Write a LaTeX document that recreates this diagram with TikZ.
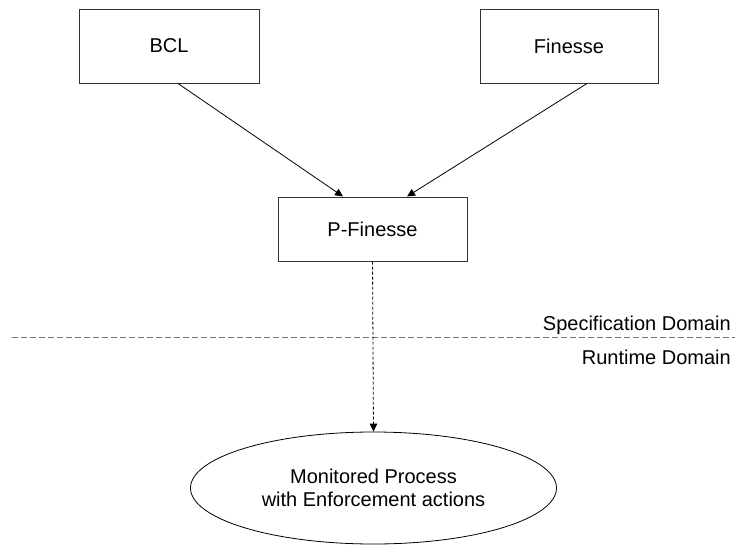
\documentclass[tikz,border=0pt]{standalone}
\usepackage{fontspec}
\setmainfont{Liberation Sans}
\usetikzlibrary{arrows.meta,shapes.geometric}
\begin{document}
\begin{tikzpicture}[x=1pt,y=-1pt,
  font=\fontsize{20}{23}\selectfont,
  box/.style={draw=black!80,line width=1pt,rectangle,inner sep=0pt},
  link/.style={draw=black,line width=0.8pt,-{Triangle[length=8pt,width=7.5pt]}},
  dlink/.style={link,dash pattern=on 3pt off 2pt},
  domlabel/.style={anchor=base east,inner sep=0pt}]
\useasboundingbox (0,0) rectangle (735,546);
% specification artefacts
\node[box,minimum width=180pt,minimum height=74pt] (bcl) at (169,46) {BCL};
\node[box,minimum width=178pt,minimum height=74pt] (fin) at (569,46) {Finesse};
\node[box,minimum width=189pt,minimum height=64pt] (pfin) at (372.5,229) {P-Finesse};
% runtime process
\node[draw=black,line width=0.8pt,ellipse,minimum width=366pt,minimum height=112pt,inner sep=0pt,align=center,font=\fontsize{20}{23}\selectfont] (proc) at (373.5,488) {Monitored Process\\with Enforcement actions};
% domain separator
\coordinate (sepL) at (12,337);
\coordinate (sepR) at (735,337);
\draw[black!55,line width=1pt,dash pattern=on 6pt off 3pt] (sepL) -- (sepR);
\node[domlabel] (spec) at (731,330) {Specification Domain};
\node[domlabel] (run) at (731,364) {Runtime Domain};
% connectors
\draw[link] (bcl.south -| 178,0) -- (pfin.north -| 343,0);
\draw[link] (fin.south -| 587,0) -- (pfin.north -| 407,0);
\draw[dlink] (pfin.south) -- (proc.north);
\end{tikzpicture}
\end{document}
